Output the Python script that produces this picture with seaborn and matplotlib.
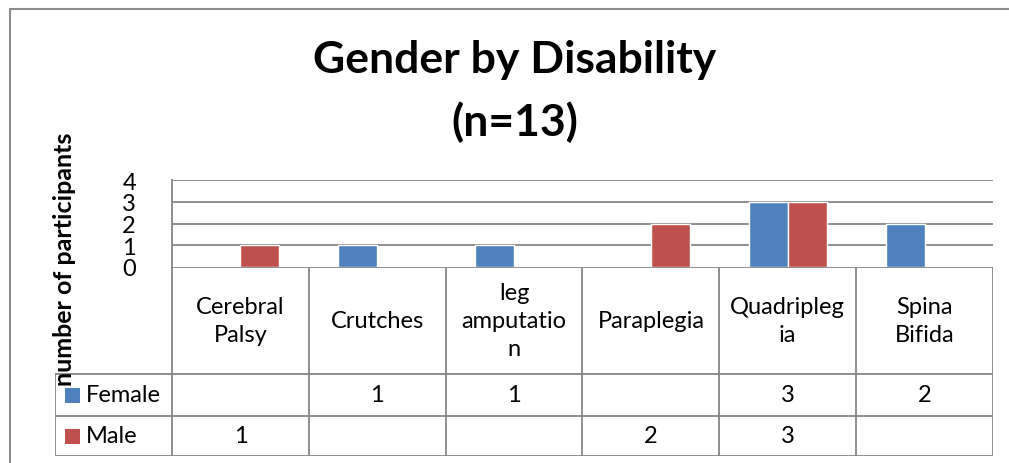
import matplotlib
matplotlib.use('Agg')
import matplotlib.pyplot as plt
import seaborn as sns
import pandas as pd
from matplotlib.patches import Rectangle
from matplotlib.lines import Line2D

# chart data
categories = ['Cerebral Palsy', 'Crutches', 'leg amputation', 'Paraplegia', 'Quadriplegia', 'Spina Bifida']
table_labels = ['Cerebral\nPalsy', 'Crutches', 'leg\namputatio\nn', 'Paraplegia', 'Quadripleg\nia', 'Spina\nBifida']
female = [0, 1, 1, 0, 3, 2]
male = [1, 0, 0, 2, 3, 0]
series = ['Female', 'Male']
colors = ['#4F81BD', '#C0504D']
yticks = [0, 1, 2, 3, 4]

df = pd.DataFrame({
    'category': categories * 2,
    'gender': ['Female'] * len(categories) + ['Male'] * len(categories),
    'count': female + male,
})

sns.set_style('white')
plt.rcParams['font.family'] = ['Lato', 'DejaVu Sans']
plt.rcParams['text.color'] = 'black'
plt.rcParams['ytick.color'] = 'black'

W, H = 1009, 464
fig = plt.figure(figsize=(W / 100, H / 100), dpi=100)

def fx(px):
    return px / W

def fy(py):
    return 1 - py / H

grid_col = '#868686'
fs = 17

# outer chart frame (top and left edges visible)
frame_kw = dict(color='#8c8c8c', lw=1.5, transform=fig.transFigure)
fig.lines.append(Line2D([fx(10), 1.0], [fy(10), fy(10)], **frame_kw))
fig.lines.append(Line2D([fx(10), fx(10)], [0, fy(10)], **frame_kw))

# bar area
ax = fig.add_axes([fx(172), fy(268), fx(993) - fx(172), fy(181) - fy(268)])
sns.barplot(data=df, x='category', y='count', hue='gender', palette=colors,
            width=0.57, ax=ax, legend=False, saturation=1)
ax.set_xlim(-0.5, len(categories) - 0.5)
ax.set_ylim(0, 4)
ax.set_yticks(yticks)
ax.set_yticklabels([str(t) for t in yticks], fontsize=fs)
ax.tick_params(axis='y', length=0, pad=26)
ax.set_xticks([])
ax.set_xlabel('')
ax.set_ylabel('')
for t in yticks[1:]:
    ax.axhline(t, color=grid_col, lw=1.3, zorder=0)
for s in ['top', 'right', 'bottom']:
    ax.spines[s].set_visible(False)
ax.spines['left'].set_color(grid_col)
ax.spines['left'].set_linewidth(1.3)

# data table below the bars
left_px, top_px, bot_px = 55, 268, 457
col_w = (993 - 172) / len(categories)
x_left = -0.5 - (172 - left_px) / col_w
tab = fig.add_axes([fx(left_px), fy(bot_px), fx(993) - fx(left_px), fy(top_px) - fy(bot_px)])
tab.set_xlim(x_left, len(categories) - 0.5)
tab.set_ylim(bot_px - top_px, 0)
tab.axis('off')

hdr = 375 - top_px
r1 = 417 - top_px
r2 = bot_px - top_px
lkw = dict(color=grid_col, lw=1.3)
tab.plot([-0.5, len(categories) - 0.5], [0, 0], **lkw)
for y in [hdr, r1, r2]:
    tab.plot([x_left, len(categories) - 0.5], [y, y], **lkw)
for i in range(len(categories) + 1):
    tab.plot([i - 0.5, i - 0.5], [0, r2], **lkw)
tab.plot([x_left, x_left], [hdr, r2], **lkw)

for i, lab in enumerate(table_labels):
    tab.text(i, hdr / 2, lab, ha='center', va='center', fontsize=fs, linespacing=1.4)

rows = [(female, hdr, r1), (male, r1, r2)]
for (vals, ya, yb), name, c in zip(rows, series, colors):
    yc = (ya + yb) / 2
    for i, v in enumerate(vals):
        if v:
            tab.text(i, yc, str(v), ha='center', va='center', fontsize=fs)
    sq = 15 / col_w
    tab.add_patch(Rectangle((x_left + 10 / col_w, yc - 7.5), sq, 15, color=c, lw=0))
    tab.text(x_left + 31 / col_w, yc, name, ha='left', va='center', fontsize=fs)

# title and axis label
fig.text(fx(515), fy(60), 'Gender by Disability', ha='center', va='center',
         fontsize=32, fontweight='bold')
fig.text(fx(515), fy(122), '(n=13)', ha='center', va='center',
         fontsize=32, fontweight='bold')
fig.text(fx(65), fy(259), 'number of participants', rotation=90, ha='center', va='center',
         fontsize=18, fontweight='bold')

fig.savefig('out.png', dpi=100)
